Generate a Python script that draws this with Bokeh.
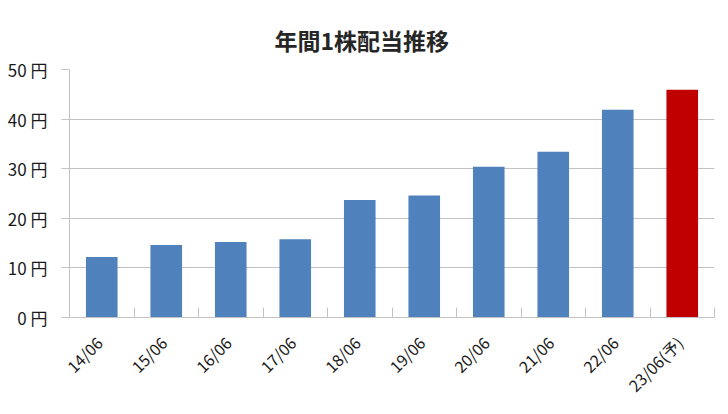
import math
from bokeh.plotting import figure
from bokeh.models import Range1d, FixedTicker
from bokeh.embed import file_html
from bokeh.resources import INLINE

# ---- data ----
categories = ["14/06", "15/06", "16/06", "17/06", "18/06",
              "19/06", "20/06", "21/06", "22/06", "23/06(予)"]
dividends = [12.2, 14.6, 15.2, 15.8, 23.7, 24.6, 30.4, 33.4, 41.9, 45.9]
y_ticks = [0, 10, 20, 30, 40, 50]
y_tick_labels = ["0 円", "10 円", "20 円", "30 円", "40 円", "50 円"]
title_text = "年間1株配当推移"

# ---- styling ----
BLUE = "#4F81BD"
RED = "#C00000"
GRID = "#C3C3C3"
TEXT = "#1a1a1a"
FONT = "Noto Sans CJK JP"

n = len(categories)
x_pos = [i + 0.5 for i in range(n)]
label_pos = [x - 0.04 for x in x_pos]
bar_colors = [RED if "予" in c else BLUE for c in categories]

p = figure(width=728, height=414, output_backend="svg", toolbar_location=None,
           x_range=Range1d(0, n), y_range=Range1d(0, 50),
           min_border_left=69, min_border_right=14,
           min_border_top=69, min_border_bottom=97)

p.vbar(x=x_pos, top=dividends, width=0.49, fill_color=bar_colors,
       line_color=None)

# title
p.title.text = title_text
p.title.text_font = FONT
p.title.text_font_size = "23px"
p.title.text_font_style = "bold"
p.title.text_color = "#262626"
p.title.align = "left"
p.title.offset = 205
p.title.standoff = 26

p.outline_line_color = None
p.background_fill_color = "white"

# grid
p.xgrid.grid_line_color = None
p.ygrid.grid_line_color = GRID
p.ygrid.grid_line_width = 1
p.ygrid.ticker = FixedTicker(ticks=y_ticks)

# y axis
ya = p.yaxis[0]
ya.ticker = FixedTicker(ticks=y_ticks)
ya.major_label_overrides = {t: lab for t, lab in zip(y_ticks, y_tick_labels)}
ya.axis_line_color = GRID
ya.major_tick_line_color = GRID
ya.major_tick_in = 0
ya.major_tick_out = 8
ya.minor_tick_line_color = None
ya.major_label_text_font = FONT
ya.major_label_text_font_size = "17px"
ya.major_label_text_color = TEXT
ya.major_label_standoff = 14

# x axis
xa = p.xaxis[0]
xa.ticker = FixedTicker(ticks=label_pos, minor_ticks=list(range(n + 1)))
xa.major_label_overrides = {x: c for x, c in zip(label_pos, categories)}
xa.axis_line_color = GRID
xa.major_tick_line_color = None
xa.major_tick_in = 0
xa.major_tick_out = 0
xa.minor_tick_line_color = GRID
xa.minor_tick_in = 10
xa.minor_tick_out = 0
xa.major_label_orientation = math.pi / 4
xa.major_label_text_font = FONT
xa.major_label_text_font_size = "16px"
xa.major_label_text_color = TEXT
xa.major_label_standoff = 22

open("out.html", "w").write(file_html(p, INLINE))
